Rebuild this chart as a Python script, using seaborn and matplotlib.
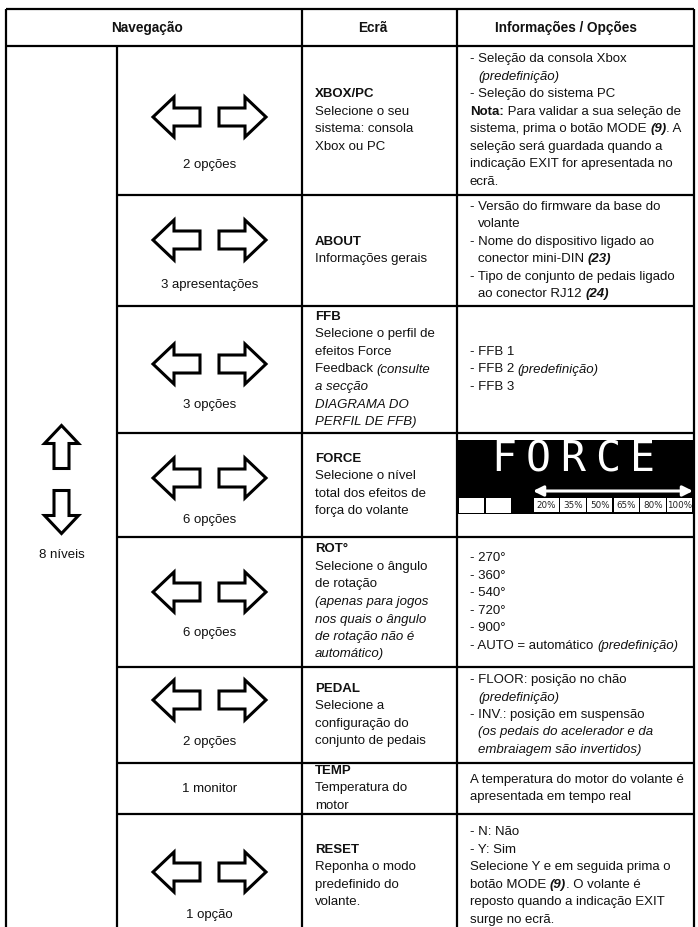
import re

import matplotlib
matplotlib.use("Agg")
import matplotlib.pyplot as plt
from matplotlib.patches import Polygon, Rectangle
import seaborn as sns

# ---- table content ----------------------------------------------------
headers = ["Navegação", "Ecrã", "Informações / Opções"]
levels_label = "8 níveis"

nav_labels = ["2 opções", "3 apresentações", "3 opções", "6 opções",
              "6 opções", "2 opções", "1 monitor", "1 opção"]
has_arrows = [True, True, True, True, True, True, False, True]

screen_titles = ["XBOX/PC", "ABOUT", "FFB", "FORCE", "ROT°", "PEDAL", "TEMP", "RESET"]
screen_text = [
    ["Selecione o seu", "sistema: consola", "Xbox ou PC"],
    ["Informações gerais"],
    ["Selecione o perfil de", "efeitos Force", "Feedback *(consulte*",
     "*a secção*", "*DIAGRAMA DO*", "*PERFIL DE FFB)*"],
    ["Selecione o nível", "total dos efeitos de", "força do volante"],
    ["Selecione o ângulo", "de rotação", "*(apenas para jogos*",
     "*nos quais o ângulo*", "*de rotação não é*", "*automático)*"],
    ["Selecione a", "configuração do", "conjunto de pedais"],
    ["Temperatura do", "motor"],
    ["Reponha o modo", "predefinido do", "volante."],
]

# "> " = continuation line (indented), *it*, **bold**, ***bold italic***
info_text = [
    ["- Seleção da consola Xbox", "> *(predefinição)*", "- Seleção do sistema PC",
     "**Nota:** Para validar a sua seleção de",
     "sistema, prima o botão MODE ***(9)***. A",
     "seleção será guardada quando a", "indicação EXIT for apresentada no", "ecrã."],
    ["- Versão do firmware da base do", "> volante", "- Nome do dispositivo ligado ao",
     "> conector mini-DIN ***(23)***", "- Tipo de conjunto de pedais ligado",
     "> ao conector RJ12 ***(24)***"],
    ["- FFB 1", "- FFB 2 *(predefinição)*", "- FFB 3"],
    None,  # FORCE row shows the screen picture
    ["- 270°", "- 360°", "- 540°", "- 720°", "- 900°",
     "- AUTO = automático *(predefinição)*"],
    ["- FLOOR: posição no chão", "> *(predefinição)*", "- INV.: posição em suspensão",
     "> *(os pedais do acelerador e da*", "> *embraiagem são invertidos)*"],
    ["A temperatura do motor do volante é", "apresentada em tempo real"],
    ["- N: Não", "- Y: Sim", "Selecione Y e em seguida prima o",
     "botão MODE ***(9)***. O volante é", "reposto quando a indicação EXIT",
     "surge no ecrã."],
]

force_word = "FORCE"
force_levels = ["20%", "35%", "50%", "65%", "80%", "100%"]

# ---- layout (pixels) ----------------------------------------------------
W, H = 698, 927
col_x = [6, 117, 302, 457, 694]
row_y = [9, 46, 195, 306, 433, 537, 667, 763, 814, 938]
arrow_y = [117, 240, 364, 478, 592, 700, None, 872]
label_y = [165, 285, 405, 520, 633, 742, 789, 915]
LINE = 17.5
FS = 9.5
PAD = 13
INDENT = 8
INK = "#111111"

sns.set_theme(style="white")
plt.rcParams["font.family"] = ["Liberation Sans", "DejaVu Sans"]

fig = plt.figure(figsize=(W / 100, H / 100), dpi=100)
ax = fig.add_axes([0, 0, 1, 1])
ax.set_xlim(0, W)
ax.set_ylim(H, 0)
ax.axis("off")
renderer = fig.canvas.get_renderer()

STYLES = {0: ("normal", "normal"), 1: ("normal", "italic"),
          2: ("bold", "normal"), 3: ("bold", "italic")}


def parse(line):
    indent = line.startswith("> ")
    if indent:
        line = line[2:]
    segs = []
    for p in re.split(r"(\*{1,3}[^*]+\*{1,3})", line):
        if not p:
            continue
        if p.startswith("*"):
            k = len(p) - len(p.lstrip("*"))
            segs.append((p.strip("*"), k))
        else:
            segs.append((p, 0))
    return indent, segs


def advance(s, **kw):
    t1 = ax.text(0, 0, s + "|", **kw)
    t2 = ax.text(0, 0, "|", **kw)
    w = t1.get_window_extent(renderer).width - t2.get_window_extent(renderer).width
    t1.remove()
    t2.remove()
    return w


def rich_line(x, y, line):
    indent, segs = parse(line)
    if indent:
        x += INDENT
    for s, k in segs:
        fw, fst = STYLES[k]
        kw = dict(fontsize=FS, fontweight=fw, fontstyle=fst, color=INK, va="center", ha="left")
        ax.text(x, y, s, **kw)
        x += advance(s, **kw)


def block(x, lines, y_top, y_bot, bold_first=None):
    allines = ([("**" + bold_first + "**")] if bold_first else []) + lines
    yc = (y_top + y_bot) / 2
    y0 = yc - (len(allines) - 1) / 2 * LINE
    for i, ln in enumerate(allines):
        rich_line(x, y0 + i * LINE, ln)


def harrow(cx, cy, direction):
    L, Hh, h, hl = 47, 40, 18, 21
    d = -1 if direction == "left" else 1
    tip = cx + d * L / 2
    base = tip - d * hl
    tail = cx - d * L / 2
    pts = [(tip, cy), (base, cy - Hh / 2), (base, cy - h / 2), (tail, cy - h / 2),
           (tail, cy + h / 2), (base, cy + h / 2), (base, cy + Hh / 2)]
    ax.add_patch(Polygon(pts, closed=True, fc="white", ec="black", lw=2.2, joinstyle="miter"))


def varrow(cx, cy, direction):
    L, Ww, w, hl = 43, 34, 15, 18
    d = -1 if direction == "up" else 1
    tip = cy + d * L / 2
    base = tip - d * hl
    tail = cy - d * L / 2
    pts = [(cx, tip), (cx - Ww / 2, base), (cx - w / 2, base), (cx - w / 2, tail),
           (cx + w / 2, tail), (cx + w / 2, base), (cx + Ww / 2, base)]
    ax.add_patch(Polygon(pts, closed=True, fc="white", ec="black", lw=2.2, joinstyle="miter"))


# ---- grid -----------------------------------------------------------------
LW = 1.6
ax.hlines([row_y[0], row_y[1]], col_x[0], col_x[-1], color="black", lw=LW)
ax.hlines(row_y[2:-1], col_x[1], col_x[-1], color="black", lw=LW)
ax.vlines([col_x[0], col_x[2], col_x[3], col_x[4]], row_y[0], H + 5, color="black", lw=LW)
ax.vlines(col_x[1], row_y[1], H + 5, color="black", lw=LW)

# ---- header -------------------------------------------------------------
hy = (row_y[0] + row_y[1]) / 2
for cx, txt in zip([147, 373, 566], headers):
    ax.text(cx, hy, txt, fontsize=FS + 0.3, fontweight="bold", color=INK, ha="center", va="center")

# ---- first column: levels ------------------------------------------------
c1 = (col_x[0] + col_x[1]) / 2
varrow(c1, 447, "up")
varrow(c1, 512, "down")
ax.text(c1, 555, levels_label, fontsize=FS, color=INK, ha="center", va="center")

# ---- rows ---------------------------------------------------------------
c2 = (col_x[1] + col_x[2]) / 2
for i in range(len(screen_titles)):
    top, bot = row_y[i + 1], row_y[i + 2]
    if has_arrows[i]:
        harrow(c2 - 33, arrow_y[i], "left")
        harrow(c2 + 33, arrow_y[i], "right")
    ax.text(c2, label_y[i], nav_labels[i], fontsize=FS, color=INK, ha="center", va="center")
    block(col_x[2] + PAD, screen_text[i], top, bot, bold_first=screen_titles[i])
    if info_text[i] is not None:
        block(col_x[3] + PAD, info_text[i], top, bot)

# ---- FORCE screen picture -----------------------------------------------
bx0, bx1, by0, by1 = col_x[3] + 1, col_x[4] - 1, 440, 514
ax.add_patch(Rectangle((bx0, by0), bx1 - bx0, by1 - by0, fc="black", ec="none"))
for j, ch in enumerate(force_word):
    ax.text(503.5 + j * 34.8, 459, ch, fontsize=30, family="DejaVu Sans Mono",
            color="white", ha="center", va="center")
seg0, seg1 = 533, 693
ax.annotate("", xy=(seg1, 491), xytext=(seg0, 491),
            arrowprops=dict(arrowstyle="<|-|>,head_length=0.5,head_width=0.25",
                            color="white", lw=2.2, shrinkA=0, shrinkB=0))
bw = (seg1 - seg0) / len(force_levels)
for j, lv in enumerate(force_levels):
    ax.add_patch(Rectangle((seg0 + j * bw + 0.6, 498), bw - 1.2, 14, fc="white", ec="none"))
    ax.text(seg0 + (j + 0.5) * bw, 505.5, lv, fontsize=6.3, family="DejaVu Sans",
            color="#222222", ha="center", va="center")
for j in range(2):
    ax.add_patch(Rectangle((bx0 + 1 + j * 27, 498), 25, 15, fc="white", ec="none"))

fig.savefig("out.png", dpi=100)
